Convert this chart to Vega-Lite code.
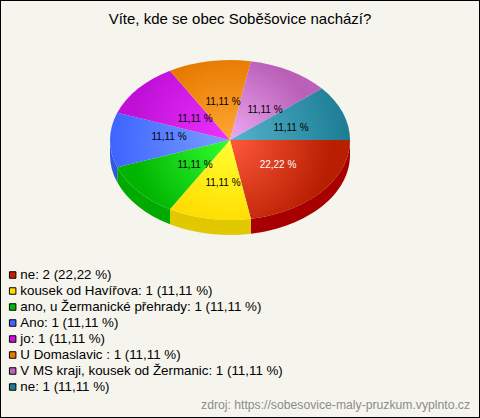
{"$schema":"https://vega.github.io/schema/vega-lite/v6.json","width":480,"height":418,"padding":0,"autosize":{"type":"none"},"background":"#f5f5ee","view":{"fill":"#f5f5ee","stroke":"#000000","strokeWidth":2},
"title":{"text":"Víte, kde se obec Soběšovice nachází?","anchor":"middle","frame":"group","orient":"top","offset":-27,"font":"Liberation Sans","fontSize":15,"fontWeight":"normal","color":"#000000"},
"data":{"values":[
{"poradi":1,"odpoved":"ne: 2 (22,22 %)","pocet":2,"podil":"22,22 %"},
{"poradi":2,"odpoved":"kousek od Havířova: 1 (11,11 %)","pocet":1,"podil":"11,11 %"},
{"poradi":3,"odpoved":"ano, u Žermanické přehrady: 1 (11,11 %)","pocet":1,"podil":"11,11 %"},
{"poradi":4,"odpoved":"Ano: 1 (11,11 %)","pocet":1,"podil":"11,11 %"},
{"poradi":5,"odpoved":"jo: 1 (11,11 %)","pocet":1,"podil":"11,11 %"},
{"poradi":6,"odpoved":"U Domaslavic : 1 (11,11 %)","pocet":1,"podil":"11,11 %"},
{"poradi":7,"odpoved":"V MS kraji, kousek od Žermanic: 1 (11,11 %)","pocet":1,"podil":"11,11 %"},
{"poradi":8,"odpoved":"\u00a0ne: 1 (11,11 %)","pocet":1,"podil":"11,11 %"}
]},
"layer":[
{"encoding":{"x":{"datum":230,"type":"quantitative","scale":{"domain":[0,480],"nice":false,"zero":false},"axis":null},"y":{"datum":140,"type":"quantitative","scale":{"domain":[418,0],"nice":false,"zero":false},"axis":null}},
"layer":[
{"transform":[{"filter":"datum.poradi==1"}],"mark":{"type":"point","filled":true,"opacity":1,"size":4,"strokeWidth":0,"fill":"#a80000","shape":"M120 0A120 80 0 0 1 20.84 78.78L20.84 93.78A120 80 0 0 0 120 15Z"}},
{"transform":[{"filter":"datum.poradi==2"}],"mark":{"type":"point","filled":true,"opacity":1,"size":4,"strokeWidth":0,"fill":"#e2c800","shape":"M20.84 78.78A120 80 0 0 1 -60 69.28L-60 84.28A120 80 0 0 0 20.84 93.78Z"}},
{"transform":[{"filter":"datum.poradi==3"}],"mark":{"type":"point","filled":true,"opacity":1,"size":4,"strokeWidth":0,"fill":"#00aa00","shape":"M-60 69.28A120 80 0 0 1 -112.76 27.36L-112.76 42.36A120 80 0 0 0 -60 84.28Z"}},
{"transform":[{"filter":"datum.poradi==4"}],"mark":{"type":"point","filled":true,"opacity":1,"size":4,"strokeWidth":0,"fill":"#3258dc","shape":"M-112.76 27.36A120 80 0 0 1 -120 0L-120 15A120 80 0 0 0 -112.76 42.36Z"}},
{"transform":[{"filter":"datum.poradi==1"}],"mark":{"type":"point","filled":true,"opacity":1,"size":4,"strokeWidth":0,"shape":"M0 0L120 0A120 80 0 0 1 20.84 78.78Z","fill":{"gradient":"radial","x1":0,"y1":0.167,"r1":0,"x2":0,"y2":0.167,"r2":0.85,"stops":[{"offset":0,"color":"#ff5a3c"},{"offset":1,"color":"#b81e00"}]}}},
{"transform":[{"filter":"datum.poradi==2"}],"mark":{"type":"point","filled":true,"opacity":1,"size":4,"strokeWidth":0,"shape":"M0 0L20.84 78.78A120 80 0 0 1 -60 69.28Z","fill":{"gradient":"radial","x1":0.742,"y1":0.005,"r1":0,"x2":0.742,"y2":0.005,"r2":1.05,"stops":[{"offset":0,"color":"#ffff33"},{"offset":1,"color":"#ffdd00"}]}}},
{"transform":[{"filter":"datum.poradi==3"}],"mark":{"type":"point","filled":true,"opacity":1,"size":4,"strokeWidth":0,"shape":"M0 0L-60 69.28A120 80 0 0 1 -112.76 27.36Z","fill":{"gradient":"radial","x1":1,"y1":0.193,"r1":0,"x2":1,"y2":0.193,"r2":0.89,"stops":[{"offset":0,"color":"#33ff33"},{"offset":1,"color":"#00b400"}]}}},
{"transform":[{"filter":"datum.poradi==4"}],"mark":{"type":"point","filled":true,"opacity":1,"size":4,"strokeWidth":0,"shape":"M0 0L-112.76 27.36A120 80 0 0 1 -112.76 -27.36Z","fill":{"gradient":"radial","x1":1,"y1":0.5,"r1":0,"x2":1,"y2":0.5,"r2":1,"stops":[{"offset":0,"color":"#7ba0ff"},{"offset":1,"color":"#3c64ff"}]}}},
{"transform":[{"filter":"datum.poradi==5"}],"mark":{"type":"point","filled":true,"opacity":1,"size":4,"strokeWidth":0,"shape":"M0 0L-112.76 -27.36A120 80 0 0 1 -60 -69.28Z","fill":{"gradient":"radial","x1":1,"y1":0.807,"r1":0,"x2":1,"y2":0.807,"r2":0.89,"stops":[{"offset":0,"color":"#ee33ff"},{"offset":1,"color":"#c010d8"}]}}},
{"transform":[{"filter":"datum.poradi==6"}],"mark":{"type":"point","filled":true,"opacity":1,"size":4,"strokeWidth":0,"shape":"M0 0L-60 -69.28A120 80 0 0 1 20.84 -78.78Z","fill":{"gradient":"radial","x1":0.742,"y1":0.995,"r1":0,"x2":0.742,"y2":0.995,"r2":1.05,"stops":[{"offset":0,"color":"#ffa733"},{"offset":1,"color":"#e87a00"}]}}},
{"transform":[{"filter":"datum.poradi==7"}],"mark":{"type":"point","filled":true,"opacity":1,"size":4,"strokeWidth":0,"shape":"M0 0L20.84 -78.78A120 80 0 0 1 91.93 -51.42Z","fill":{"gradient":"radial","x1":0,"y1":0.928,"r1":0,"x2":0,"y2":0.928,"r2":0.92,"stops":[{"offset":0,"color":"#eea8f4"},{"offset":1,"color":"#ba60b8"}]}}},
{"transform":[{"filter":"datum.poradi==8"}],"mark":{"type":"point","filled":true,"opacity":1,"size":4,"strokeWidth":0,"shape":"M0 0L91.93 -51.42A120 80 0 0 1 120 0Z","fill":{"gradient":"radial","x1":0,"y1":0.714,"r1":0,"x2":0,"y2":0.714,"r2":1,"stops":[{"offset":0,"color":"#55b4cc"},{"offset":1,"color":"#1c7c94"}]}}},
{"mark":{"type":"point","filled":true,"size":0},
"encoding":{"color":{"field":"odpoved","type":"nominal","scale":{"domain":["ne: 2 (22,22 %)","kousek od Havířova: 1 (11,11 %)","ano, u Žermanické přehrady: 1 (11,11 %)","Ano: 1 (11,11 %)","jo: 1 (11,11 %)","U Domaslavic : 1 (11,11 %)","V MS kraji, kousek od Žermanic: 1 (11,11 %)","\u00a0ne: 1 (11,11 %)"],"range":["#c81e00","#ffdd00","#00bb00","#4466ff","#cc11dd","#e87a00","#bb66bb","#1c7c94"]},
"legend":{"title":null,"orient":"none","legendX":6,"legendY":267,"symbolType":"square","symbolSize":42,"symbolStrokeColor":"#000000","symbolStrokeWidth":1,"symbolOpacity":1,"labelFont":"Liberation Sans","labelFontSize":13.33,"labelColor":"#000000","labelOffset":1,"rowPadding":0,"clipHeight":16,"labelLimit":400,"padding":0}}}}
]},
{"transform":[{"calculate":"[278,223,195,169,195,223,265,291][datum.poradi-1]","as":"popiskaX"},{"calculate":"[165,183,165,137,119,102,110,128][datum.poradi-1]","as":"popiskaY"}],
"mark":{"type":"text","font":"Liberation Sans","fontSize":10,"align":"center","baseline":"middle"},
"encoding":{"x":{"field":"popiskaX","type":"quantitative"},"y":{"field":"popiskaY","type":"quantitative"},"text":{"field":"podil"},"color":{"condition":{"test":"datum.pocet==2","value":"#ffffff"},"value":"#000000"}}},
{"data":{"values":[{"zdroj":"zdroj: https://sobesovice-maly-pruzkum.vyplnto.cz"}]},
"mark":{"type":"text","font":"Liberation Sans","fontSize":12.2,"align":"right","baseline":"middle","color":"#8c8c8c"},
"encoding":{"x":{"datum":470,"type":"quantitative"},"y":{"datum":405,"type":"quantitative"},"text":{"field":"zdroj"}}}
]}
